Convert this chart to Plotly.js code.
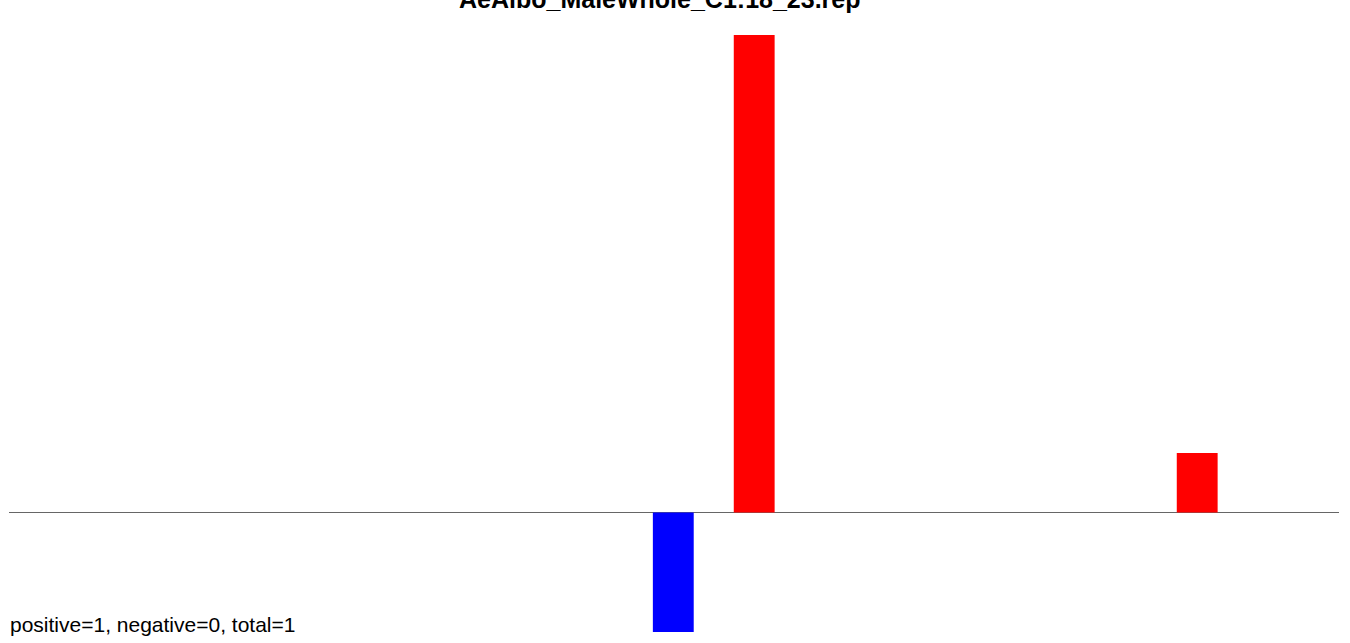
<!DOCTYPE html>
<html>
<head>
<meta charset="utf-8">
<script src="https://cdn.plot.ly/plotly-3.0.1.min.js"></script>
<style>html,body{margin:0;padding:0;background:#fff;}#chart{width:1350px;height:643px;}</style>
</head>
<body>
<div id="chart"></div>
<script>
const chartTitle = "AeAlbo_MaleWhole_C1:18_23.rep";
const footnote = "positive=1, negative=0, total=1";
const positions = [16, 18, 28.95];
const values = [-2, 8, 1];
const barColors = ["#0000ff", "#ff0000", "#ff0000"];

const trace = {
  type: "bar",
  x: positions,
  y: values,
  width: 1.01,
  marker: {color: barColors, line: {width: 0}},
  hoverinfo: "x+y"
};

const layout = {
  width: 1350,
  height: 643,
  margin: {l: 9, r: 11, t: 35, b: 11, pad: 0},
  paper_bgcolor: "#ffffff",
  plot_bgcolor: "#ffffff",
  showlegend: false,
  font: {family: "Liberation Sans, Arial, sans-serif", color: "#000"},
  xaxis: {range: [-0.42, 32.455], visible: true, showgrid: false, zeroline: false,
          showline: false, showticklabels: false, ticks: ""},
  yaxis: {range: [-2, 8], showgrid: false, zeroline: true, zerolinecolor: "#666666",
          zerolinewidth: 1, showline: false, showticklabels: false, ticks: ""},
  annotations: [
    {text: "<b>" + chartTitle + "</b>", xref: "paper", yref: "paper", x: 0.5, xshift: -14,
     y: 1, yanchor: "bottom", yshift: 20, showarrow: false,
     font: {size: 25, family: "Liberation Sans, Arial, sans-serif", color: "#000"}},
    {text: footnote, xref: "paper", yref: "paper", x: 0, xanchor: "left", xshift: -1,
     y: 0, yanchor: "bottom", yshift: -6, showarrow: false,
     font: {size: 21, family: "Liberation Sans, Arial, sans-serif", color: "#000"}}
  ]
};

Plotly.newPlot("chart", [trace], layout, {displayModeBar: false, staticPlot: true});
</script>
</body>
</html>
